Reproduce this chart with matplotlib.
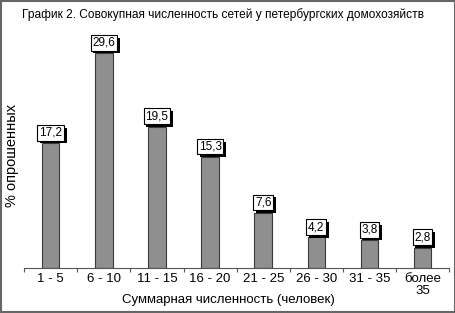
import matplotlib
matplotlib.use("Agg")
from matplotlib import pyplot as plt
from matplotlib.patches import Rectangle
import matplotlib.patheffects as pe
import numpy as np

# data
categories = ["1 - 5", "6 - 10", "11 - 15", "16 - 20", "21 - 25", "26 - 30", "31 - 35", "более\n35"]
values = [17.2, 29.6, 19.5, 15.3, 7.6, 4.2, 3.8, 2.8]
value_labels = ["17,2", "29,6", "19,5", "15,3", "7,6", "4,2", "3,8", "2,8"]

title = "График 2. Совокупная численность сетей у петербургских домохозяйств"
xlabel = "Суммарная численность (человек)"
ylabel = "% опрошенных"

plt.rcParams['font.family'] = ['Liberation Sans', 'DejaVu Sans']

fig = plt.figure(figsize=(4.56, 3.13), dpi=100)
ax = fig.add_axes([0.053, 0.144, 0.932, 0.718])

x = np.arange(len(categories))
ax.bar(x, values, width=0.33, color='#8f8f8f', edgecolor='#3a3a3a', linewidth=0.8, zorder=2)

# value labels: white box with a black drop shadow
for xi, v, lab in zip(x, values, value_labels):
    ann = ax.annotate(lab, (xi, v), xytext=(0, 3.2), textcoords='offset points',
                      ha='center', va='bottom', fontsize=8.5, color='black',
                      bbox=dict(boxstyle='square,pad=0.15', fc='white', ec='black', lw=0.8), zorder=4)
    ann.get_bbox_patch().set_path_effects([
        pe.SimplePatchShadow(offset=(2, -2), shadow_rgbFace='black', alpha=1.0),
        pe.Normal()])

ax.set_xlim(-0.5, len(categories) - 0.5)
ax.set_ylim(0, 31)
ax.set_xticks(x)
ax.set_xticklabels(categories, fontsize=9.5, linespacing=0.9)
ax.set_xticks(np.arange(-0.5, len(categories)), minor=True)
ax.tick_params(axis='x', which='major', length=0, pad=4)
ax.tick_params(axis='x', which='minor', length=3, width=0.8, color='#555555')
ax.set_yticks([])

for side in ['top', 'right', 'left']:
    ax.spines[side].set_visible(False)
ax.spines['bottom'].set_color('#555555')
ax.spines['bottom'].set_linewidth(0.8)

ax.set_ylabel(ylabel, fontsize=10.5, labelpad=4)
fig.text(0.5, 0.042, xlabel, ha='center', va='center', fontsize=9.5)
fig.text(0.49, 0.952, title, ha='center', va='center', fontsize=8.6)

# frame around the whole picture
fig.patches.append(Rectangle((0.003, 0.003), 0.994, 0.994, transform=fig.transFigure,
                             fill=False, ec='#666666', lw=1.5))

fig.savefig("out.png", dpi=100)
